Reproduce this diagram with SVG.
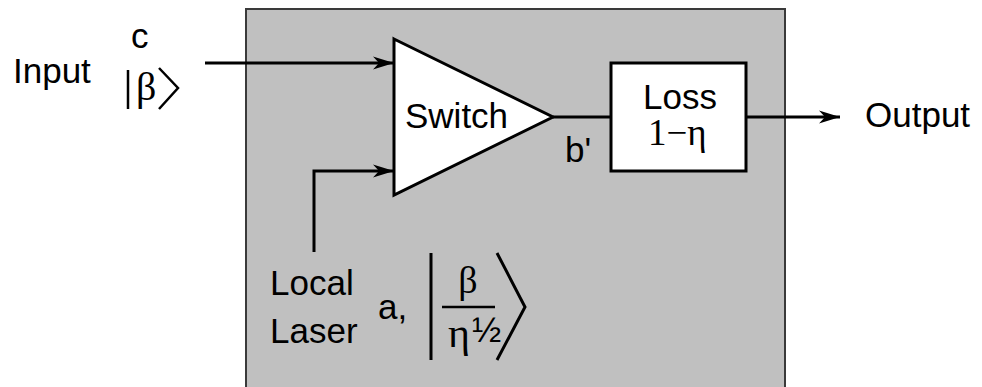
<svg xmlns="http://www.w3.org/2000/svg" width="982" height="387" viewBox="0 0 982 387">
<defs>
<marker id="ah" markerWidth="24" markerHeight="16" refX="22" refY="8" orient="auto" markerUnits="userSpaceOnUse">
<path d="M1,1.5 L22,8 L1,14.5 L7,8 Z" fill="#000"/>
</marker>
<style>
.s{font-family:"Liberation Sans",Arial,sans-serif;font-size:35px;fill:#000}
.m{font-family:"Liberation Serif","Times New Roman",serif;fill:#000}
.ln{stroke:#000;stroke-width:3;fill:none}
</style>
</defs>
<rect width="982" height="387" fill="#fff"/>
<g id="box"><rect x="246" y="9" width="539" height="390" fill="#c0c0c0" stroke="#3a3a3a" stroke-width="2"/></g>
<g id="connectors">
<path class="ln" d="M205,63 H394" marker-end="url(#ah)"/>
<path class="ln" d="M314,252 V171 H394" marker-end="url(#ah)"/>
<path class="ln" d="M553,117 H611"/>
<path class="ln" d="M746,117 H840" marker-end="url(#ah)"/>
</g>
<g id="switch">
<polygon points="394,39 553,117 394,195" fill="#fff" stroke="#000" stroke-width="3"/>
<text class="s" x="405" y="128">Switch</text>
</g>
<g id="loss">
<rect x="611" y="63" width="135" height="108" fill="#fff" stroke="#000" stroke-width="3"/>
<text class="s" x="643" y="109">Loss</text>
<text class="m" x="648" y="145" font-size="37">1−η</text>
</g>
<g id="input">
<text class="s" x="13" y="83">Input</text>
<text class="s" x="131" y="48">c</text>
<path d="M128,70 V109" stroke="#000" stroke-width="2.5"/>
<text class="m" x="136" y="100" font-size="40">β</text>
<path d="M159,68 L178,88 L159,109" stroke="#000" stroke-width="2.5" fill="none"/>
</g>
<text class="s" x="565" y="162">b'</text>
<g id="output"><text class="s" x="865" y="127">Output</text></g>
<g id="laser">
<text class="s" x="270" y="295">Local</text>
<text class="s" x="270" y="343">Laser</text>
<text class="s" x="378" y="319">a,</text>
<path d="M431,253 V360" stroke="#000" stroke-width="3"/>
<text class="m" x="468" y="293" font-size="38" text-anchor="middle">β</text>
<path d="M442,307 H495" stroke="#000" stroke-width="2.5"/>
<text class="m" x="448" y="347" font-size="42">η</text>
<text class="s" x="472" y="342" font-size="30">½</text>
<path d="M497,253 L525,307 L497,360" stroke="#000" stroke-width="3" fill="none"/>
</g>
</svg>
